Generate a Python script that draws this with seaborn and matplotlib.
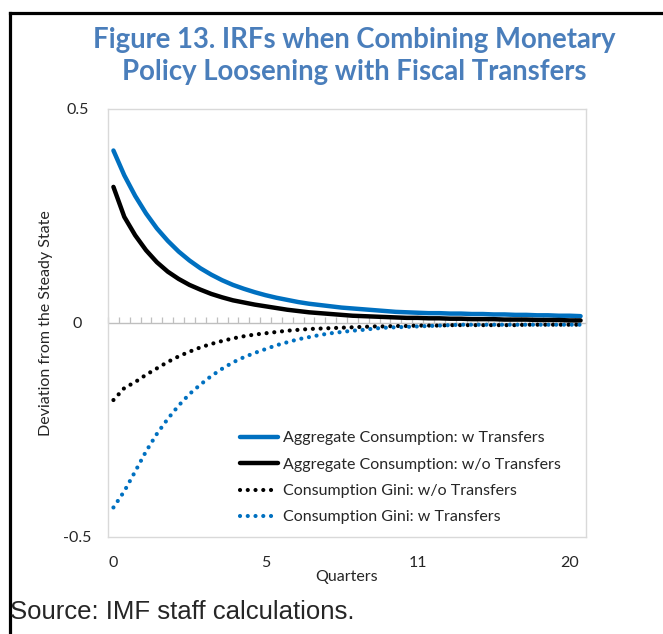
import numpy as np
import pandas as pd
import matplotlib
matplotlib.use("Agg")
import matplotlib.pyplot as plt
import seaborn as sns
from matplotlib.lines import Line2D

# DATA (44 quarterly-grid points)
agg_w = [0.403, 0.345, 0.297, 0.256, 0.221, 0.192, 0.167, 0.146, 0.128, 0.113,
         0.100, 0.089, 0.080, 0.072, 0.065, 0.059, 0.054, 0.049, 0.045, 0.042,
         0.039, 0.036, 0.034, 0.032, 0.030, 0.028, 0.026, 0.025, 0.024, 0.023,
         0.023, 0.022, 0.022, 0.021, 0.021, 0.020, 0.020, 0.019, 0.019, 0.018,
         0.018, 0.017, 0.017, 0.016]
agg_wo = [0.318, 0.248, 0.205, 0.170, 0.142, 0.120, 0.103, 0.089, 0.078, 0.068,
          0.060, 0.053, 0.048, 0.043, 0.039, 0.035, 0.031, 0.028, 0.025, 0.023,
          0.021, 0.019, 0.017, 0.016, 0.015, 0.014, 0.013, 0.012, 0.012, 0.011,
          0.011, 0.010, 0.010, 0.009, 0.009, 0.009, 0.008, 0.008, 0.008, 0.007,
          0.007, 0.007, 0.006, 0.006]
gini_wo = [-0.180, -0.152, -0.138, -0.121, -0.106, -0.091, -0.078, -0.067, -0.057, -0.049,
           -0.042, -0.036, -0.031, -0.027, -0.024, -0.021, -0.018, -0.016, -0.014, -0.013,
           -0.012, -0.011, -0.010, -0.009, -0.008, -0.008, -0.007, -0.007, -0.006, -0.006,
           -0.006, -0.005, -0.005, -0.005, -0.005, -0.005, -0.005, -0.005, -0.004, -0.004,
           -0.004, -0.004, -0.004, -0.004]
gini_w = [-0.431, -0.393, -0.347, -0.300, -0.259, -0.224, -0.193, -0.166, -0.144, -0.124,
          -0.107, -0.092, -0.080, -0.070, -0.061, -0.052, -0.045, -0.038, -0.033, -0.028,
          -0.024, -0.021, -0.018, -0.016, -0.013, -0.011, -0.010, -0.009, -0.008, -0.007,
          -0.006, -0.005, -0.004, -0.004, -0.004, -0.004, -0.004, -0.004, -0.004, -0.004,
          -0.004, -0.004, -0.004, -0.004]
xtick_pos = [0, 14, 28, 42]
xtick_labels = ["0", "5", "11", "20"]
ytick_vals = [-0.5, 0, 0.5]
ytick_labels = ["-0.5", "0", "0.5"]

labels = ["Aggregate Consumption: w Transfers",
          "Aggregate Consumption: w/o Transfers",
          "Consumption Gini: w/o Transfers",
          "Consumption Gini: w Transfers"]
series = [agg_w, agg_wo, gini_wo, gini_w]

q = np.arange(len(agg_w))
df = pd.DataFrame({"q": np.tile(q, 4),
                   "val": np.concatenate(series),
                   "series": np.repeat(labels, len(q))})

BLUE = "#0070C0"
GRID = "#BFBFBF"
sns.set_style("white")
plt.rcParams["font.family"] = ["Lato", "DejaVu Sans"]

fig = plt.figure(figsize=(6.63, 6.34), dpi=100)
ax = fig.add_axes([108/663, 1-537/634, 478/663, 428/634])

# zero axis with category tick marks (pointing up)
ax.axhline(0, color=GRID, lw=1, zorder=1)
bounds = np.arange(len(q) + 1) - 0.5
ax.plot(bounds, np.zeros_like(bounds), ls="none", marker=2, ms=4,
        mew=0.9, color=GRID, zorder=1, clip_on=False)

styles = {labels[0]: (BLUE, "-"), labels[1]: ("black", "-"),
          labels[2]: ("black", ":"), labels[3]: (BLUE, ":")}
handles = []
for lab in labels:
    c, ls = styles[lab]
    sub = df[df.series == lab]
    if ls == "-":
        sns.lineplot(data=sub, x="q", y="val", ax=ax, color=c, lw=3.2,
                     solid_capstyle="round", zorder=3)
        handles.append(Line2D([], [], color=c, lw=3.2))
    else:
        sns.lineplot(data=sub, x="q", y="val", ax=ax, color=c, lw=3,
                     linestyle=(0, (0.01, 1.85)), dash_capstyle="round", zorder=3)
        handles.append(Line2D([], [], color=c, lw=3,
                              linestyle=(0, (0.01, 1.85)), dash_capstyle="round"))

ax.set_xlim(-0.5, len(q) - 0.5)
ax.set_ylim(-0.5, 0.5)
ax.set_xticks(xtick_pos)
ax.set_xticklabels(xtick_labels)
ax.set_yticks(ytick_vals)
ax.set_yticklabels(ytick_labels)
ax.tick_params(axis="x", length=0, pad=14, labelsize=11.5)
ax.tick_params(axis="y", length=0, pad=22, labelsize=11.5)
for t in ax.get_yticklabels():
    t.set_ha("center")
for s in ax.spines.values():
    s.set_color("#D9D9D9")
    s.set_linewidth(1)

ax.set_xlabel("Quarters", fontsize=11.5, labelpad=0)
ax.set_ylabel("Deviation from the Steady State", fontsize=11.5)
ax.yaxis.set_label_coords(-0.115, 0.5)

ax.legend(handles, labels, loc="upper left", bbox_to_anchor=(0.276, 0.247),
          frameon=False, fontsize=11.5, handlelength=2.375, handletextpad=0.31,
          labelspacing=0.76, borderpad=0, borderaxespad=0)

fig.text(0.535, 1-56/634, "Figure 13. IRFs when Combining Monetary\nPolicy Loosening with Fiscal Transfers",
         ha="center", va="center", fontsize=19.8, fontweight="bold",
         color="#4A7EBB", linespacing=1.32)
fig.text(10/663, 1-612/634, "Source: IMF staff calculations.", ha="left", va="center",
         fontsize=18.5, family="Liberation Sans")

# outer frame (top and left edges)
fig.add_artist(Line2D([10/663, 10/663], [0, 1-12.5/634], color="black", lw=2.3,
                      transform=fig.transFigure, solid_capstyle="projecting"))
fig.add_artist(Line2D([10/663, 1], [1-12.5/634, 1-12.5/634], color="black", lw=2.3,
                      transform=fig.transFigure, solid_capstyle="projecting"))

fig.savefig("out.png", dpi=100)
